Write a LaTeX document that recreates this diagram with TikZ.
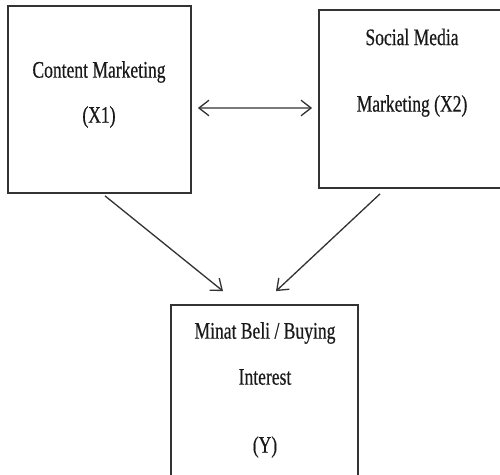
\documentclass[tikz,border=0pt]{standalone}
\usepackage{fontspec}
\newfontfamily\boxfont[FakeStretch=0.74, FakeBold=0.5]{Liberation Serif}
\usepackage{tikz}
\usetikzlibrary{arrows.meta, positioning}
\definecolor{linegray}{rgb}{0.2,0.2,0.2}
\tikzstyle{box}      = [draw=linegray, line width=2pt, rectangle, inner sep=0pt]
\tikzstyle{txt}      = [font=\boxfont\fontsize{27}{32}\selectfont, text=black!90, inner sep=0pt]
\tikzstyle{onearrow} = [draw=linegray, line width=1.5pt, -{Straight Barb[length=0.4cm, width=0.62cm]}]
\tikzstyle{biarrow}  = [draw=linegray, line width=1.5pt, {Straight Barb[length=0.4cm, width=0.62cm]}-{Straight Barb[length=0.4cm, width=0.62cm]}]

\begin{document}
\begin{tikzpicture}

\useasboundingbox (0,0) rectangle (20,-19);
\clip (0,0) rectangle (20,-19);

% boxes
\node [box, minimum width=7.32cm, minimum height=7.48cm] at ( 3.98, -3.98) (content)  {};
\node [box, minimum width=7.44cm, minimum height=7.12cm] at (16.48, -3.96) (social)   {};
\node [box, minimum width=7.48cm, minimum height=7.2cm]  at (10.58, -15.8) (interest) {};

% texts
\node [txt] at ( 3.96, -2.88) (content1)  {Content Marketing};
\node [txt] at ( 3.96, -4.68) (content2)  {(X1)};
\node [txt] at (16.48, -1.48) (social1)   {Social Media};
\node [txt] at (16.48, -4.24) (social2)   {Marketing (X2)};
\node [txt] at (10.6 , -13.32) (interest1) {Minat Beli / Buying};
\node [txt] at (10.6 , -15.08) (interest2) {Interest};
\node [txt] at (10.6 , -17.88) (interest3) {(Y)};

% arrows
\draw [biarrow, shorten <=0.24cm, shorten >=0.24cm] ([yshift=-0.34cm]content.east) -- ([yshift=-0.36cm]social.west);
\draw [onearrow] ([xshift=0.22cm, yshift=-0.08cm]content.south) -- ([xshift=-1.66cm, yshift=0.52cm]interest.north);
\draw [onearrow] ([xshift=-1.28cm, yshift=-0.2cm]social.south)  -- ([xshift=0.46cm, yshift=0.52cm]interest.north);

\end{tikzpicture}
\end{document}
